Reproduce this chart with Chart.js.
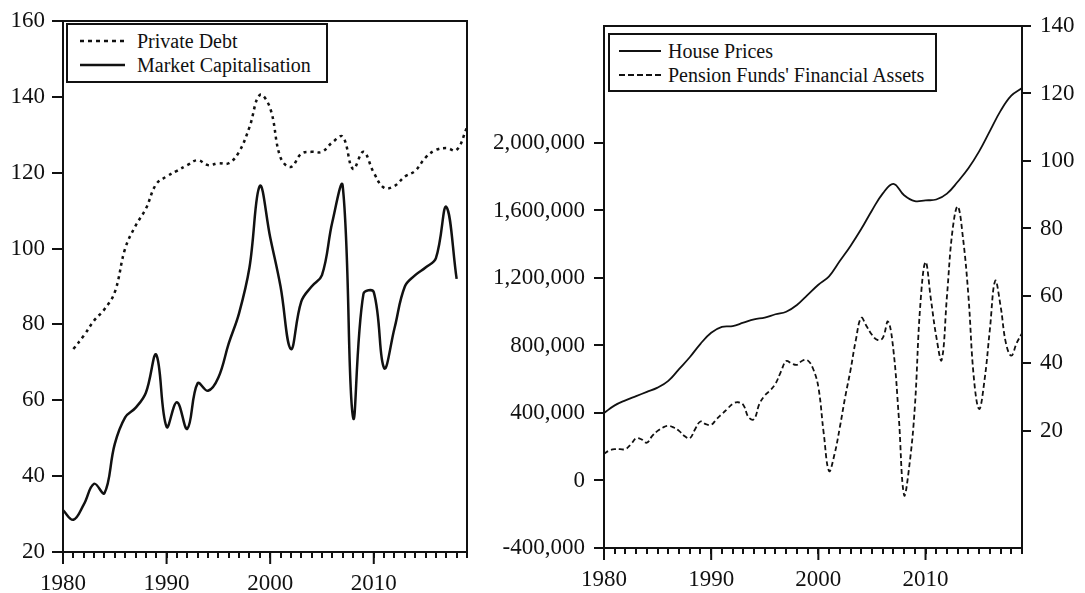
<!DOCTYPE html>
<html>
<head>
<meta charset="utf-8">
<script src="https://cdn.jsdelivr.net/npm/chart.js@4.4.1/dist/chart.umd.min.js"></script>
<style>
    html, body { margin: 0; padding: 0; background: #fff; }
    body { width: 1085px; height: 593px; position: relative; overflow: hidden; font-family: 'Liberation Serif', serif; }
    canvas { position: absolute; top: 0; }
    #leftChart { left: 0; }
    #rightChart { left: 480px; }
    .legend { position: absolute; box-sizing: border-box; border: 2px solid #111; background: #fff; font-size: 20px; color: #111; }
    .legend div { display: flex; align-items: center; height: 24px; white-space: nowrap; }
    #leftLegend { left: 66px; top: 23px; width: 262px; height: 60px; padding: 4px 0 0 12px; }
    #leftLegend svg { margin-right: 12px; }
    #rightLegend { left: 608px; top: 33px; width: 329px; height: 59px; padding: 4px 0 0 9px; }
    #rightLegend svg { margin-right: 7px; }
</style>
</head>
<body>
<canvas id="leftChart" width="480" height="593"></canvas>
<canvas id="rightChart" width="605" height="593"></canvas>

<div class="legend" id="leftLegend">
    <div><svg width="45" height="6"><line x1="0" y1="3" x2="45" y2="3" stroke="#111" stroke-width="2.5" stroke-dasharray="4 4"/></svg>Private Debt</div>
    <div><svg width="45" height="6"><line x1="0" y1="3" x2="45" y2="3" stroke="#111" stroke-width="2.5"/></svg>Market Capitalisation</div>
</div>
<div class="legend" id="rightLegend">
    <div><svg width="42" height="6"><line x1="0" y1="3" x2="42" y2="3" stroke="#111" stroke-width="2"/></svg>House Prices</div>
    <div><svg width="42" height="6"><line x1="0" y1="3" x2="42" y2="3" stroke="#111" stroke-width="2" stroke-dasharray="6 3"/></svg>Pension Funds' Financial Assets</div>
</div>

<script>
// yearly axis 1980..2019
const years = Array.from({length: 40}, (_, i) => 1980 + i);

const privateDebt = [
    null, 73.5, 77, 81, 84, 88.5, 100, 106, 110.5, 117,
    119, 120.5, 122, 123.3, 122, 122.5, 122.5, 125.5, 132, 140.5,
    137, 124, 121.5, 125, 125.5, 125.5, 128, 129.5, 121, 125.5,
    120, 116, 116.5, 119, 120.5, 124, 126, 126.5, 126, 132
];
const marketCap = [
    31, 28.5, 32.5, 38, 35.5, 48.5, 55.5, 58, 62, 72,
    53, 59.5, 52.5, 64.5, 62.5, 66, 75, 83, 95, 116.5,
    103, 90, 73.5, 86, 90, 93, 107, 116.5, 55.5, 88,
    88.5, 68.5, 79, 90, 93, 95, 97.5, 111, 92, null
];
const leftTicks = [20, 40, 60, 80, 100, 120, 140, 160];

const housePrices = [
    400000, 445000, 475000, 500000, 525000, 550000, 590000, 660000, 730000, 810000,
    875000, 910000, 915000, 935000, 955000, 965000, 985000, 1000000, 1040000, 1100000,
    1160000, 1210000, 1300000, 1390000, 1490000, 1600000, 1700000, 1758000, 1690000, 1655000,
    1660000, 1665000, 1700000, 1770000, 1850000, 1950000, 2070000, 2190000, 2280000, 2325000
];
// half-yearly readings 1980.0 .. 2019.0
const pensionAssets = [
    13.2, 14.2, 14.6, 14.6, 14.6, 16, 17.8, 17.5, 16.5, 18.5,
    20, 21, 21.5, 21, 20, 18.5, 17.8, 20.5, 22.8, 22,
    21.8, 23.5, 25, 26.5, 28, 28.5, 27.7, 24, 23.5, 28,
    30.5, 32, 34, 37.5, 40.7, 40, 39.6, 40.8, 40.9, 38.5,
    33, 19.3, 8.1, 13, 21, 30, 38, 47, 53.5, 51,
    48.5, 47, 47.5, 52.4, 44, 24.3, 1, 10, 27, 56.8,
    70, 59, 48, 41, 60, 79, 86.5, 77, 60, 36,
    26.5, 35, 50, 64.5, 57, 46, 42.3, 46, 49
];
const pensionYears = pensionAssets.map((_, i) => 1980 + i * 0.5);
const houseTicks = [-400000, 0, 400000, 800000, 1200000, 1600000, 2000000];
const pensionTicks = [20, 40, 60, 80, 100, 120, 140];

const INK = '#111';
const tickFont = {family: "'Liberation Serif', serif", size: 23};

const toPoints = (xs, ys) => xs.map((x, i) => ({x, y: ys[i]}));

// box round the plot area plus the longer decade ticks
const framePlugin = {
    id: 'frame',
    afterDraw(chart) {
        const {ctx, chartArea: a, scales: {x}} = chart;
        ctx.save();
        ctx.strokeStyle = INK;
        ctx.lineWidth = 2;
        ctx.strokeRect(a.left, a.top, a.right - a.left, a.bottom - a.top);
        ctx.beginPath();
        for (let yr = 1980; yr <= 2010; yr += 10) {
            const px = x.getPixelForValue(yr);
            ctx.moveTo(px, a.bottom);
            ctx.lineTo(px, a.bottom + 12);
        }
        ctx.stroke();
        ctx.restore();
    }
};

const xAxis = (height) => ({
    type: 'linear',
    min: 1980,
    max: 2019,
    border: {display: false},
    grid: {drawOnChartArea: false, color: INK, tickLength: 6, lineWidth: 2},
    ticks: {
        stepSize: 1,
        autoSkip: false,
        maxRotation: 0,
        padding: 12,
        color: INK,
        font: tickFont,
        callback: v => v % 10 === 0 ? String(v) : ''
    },
    afterFit: scale => { scale.height = height; }
});

const lineStyle = {
    borderColor: INK,
    pointRadius: 0,
    tension: 0.4,
    fill: false
};

new Chart(document.getElementById('leftChart'), {
    type: 'line',
    data: {
        datasets: [
            {...lineStyle, label: 'Private Debt', data: toPoints(years, privateDebt), borderWidth: 2.5, borderDash: [3, 4]},
            {...lineStyle, label: 'Market Capitalisation', data: toPoints(years, marketCap), borderWidth: 2.5}
        ]
    },
    options: {
        responsive: false,
        animation: false,
        layout: {padding: {top: 21, right: 13, left: 0, bottom: 0}},
        plugins: {legend: {display: false}, tooltip: {enabled: false}},
        scales: {
            x: xAxis(41),
            y: {
                min: 20,
                max: 160,
                border: {display: false},
                grid: {drawOnChartArea: false, color: INK, tickLength: 11, lineWidth: 2},
                ticks: {padding: 7, color: INK, font: tickFont},
                afterBuildTicks: scale => { scale.ticks = leftTicks.map(value => ({value})); },
                afterFit: scale => { scale.width = 63; }
            }
        }
    },
    plugins: [framePlugin]
});

new Chart(document.getElementById('rightChart'), {
    type: 'line',
    data: {
        datasets: [
            {...lineStyle, label: 'House Prices', data: toPoints(years, housePrices), borderWidth: 1.8, yAxisID: 'y'},
            {...lineStyle, label: "Pension Funds' Financial Assets", data: toPoints(pensionYears, pensionAssets), borderWidth: 1.8, borderDash: [5, 3], yAxisID: 'y2'}
        ]
    },
    options: {
        responsive: false,
        animation: false,
        layout: {padding: {top: 26, right: 0, left: 0, bottom: 0}},
        plugins: {legend: {display: false}, tooltip: {enabled: false}},
        scales: {
            x: xAxis(45),
            y: {
                position: 'left',
                min: -400000,
                max: 2693000,
                border: {display: false},
                grid: {drawOnChartArea: false, color: INK, tickLength: 10, lineWidth: 2},
                ticks: {padding: 9, color: INK, font: tickFont, callback: v => v.toLocaleString('en-US')},
                afterBuildTicks: scale => { scale.ticks = houseTicks.map(value => ({value})); },
                afterFit: scale => { scale.width = 124; }
            },
            y2: {
                position: 'right',
                min: -14.7,
                max: 140,
                border: {display: false},
                grid: {drawOnChartArea: false, color: INK, tickLength: 9, lineWidth: 2},
                ticks: {padding: 9, color: INK, font: tickFont},
                afterBuildTicks: scale => { scale.ticks = pensionTicks.map(value => ({value})); },
                afterFit: scale => { scale.width = 63; }
            }
        }
    },
    plugins: [framePlugin]
});
</script>
</body>
</html>
